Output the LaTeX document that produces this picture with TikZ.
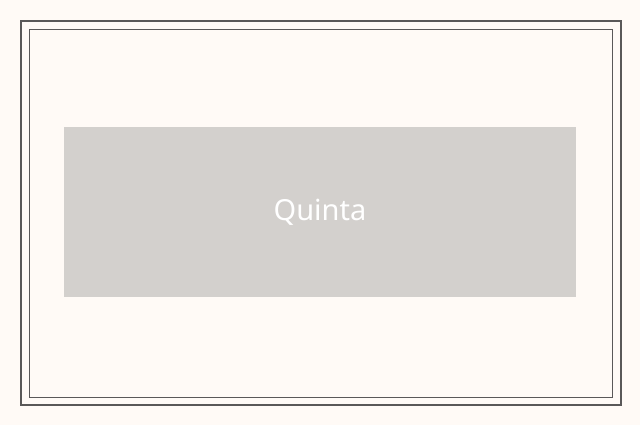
\documentclass[tikz,border=0pt]{standalone}
\usepackage{fontspec}
\setmainfont{Noto Sans}
\definecolor{bg}{HTML}{FFFAF6}
\definecolor{frame}{HTML}{5A5858}
\definecolor{boxc}{HTML}{D3D0CD}
\begin{document}
\begin{tikzpicture}[x=1pt,y=-1pt]
\fill[bg] (0,0) rectangle (640,425);
\useasboundingbox (0,0) rectangle (640,425);
\draw[frame,line width=1.5pt] (21,21) rectangle (621,405);
\draw[frame,line width=0.7pt] (29,29) rectangle (612,397);
\node[fill=boxc,minimum width=512pt,minimum height=170pt,inner sep=0pt] (box) at (320,212) {};
\node[text=white,font=\fontsize{29}{34}\selectfont\bfseries] (lbl) at (box.center) {Quinta};
\end{tikzpicture}
\end{document}
